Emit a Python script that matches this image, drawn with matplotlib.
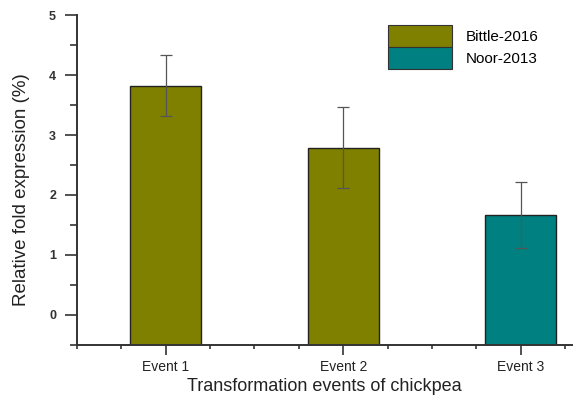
import matplotlib
matplotlib.use("Agg")
import matplotlib.pyplot as plt
from matplotlib.patches import Patch
from matplotlib.ticker import MultipleLocator

events = ["Event 1", "Event 2", "Event 3"]
fold = [3.82, 2.79, 1.67]
err = [0.51, 0.68, 0.55]
source = ["Bittle-2016", "Bittle-2016", "Noor-2013"]
colours = {"Bittle-2016": "#808000", "Noor-2013": "#008080"}

plt.rcParams["font.family"] = ["Liberation Sans", "DejaVu Sans"]

fig = plt.figure(figsize=(5.74, 3.96), dpi=100)
ax = fig.add_axes([0.134, 0.129, 0.863, 0.833])

ymin, ymax = -0.5, 5
pos = [1, 2, 3]
# bars rise from the bottom of the axis, as in Origin plots
ax.bar(pos, [f - ymin for f in fold], bottom=ymin, width=0.4,
       color=[colours[s] for s in source],
       edgecolor="#222222", linewidth=1.0, zorder=2)
ax.errorbar(pos, fold, yerr=err, fmt="none", ecolor="#555555",
            elinewidth=0.9, capsize=4, capthick=0.9, zorder=3)

ax.set_xlim(0.5, 3.29)
ax.set_ylim(ymin, ymax)
ax.set_xticks(pos)
ax.set_xticklabels(events, fontsize=10, color="#222222")
ax.xaxis.set_minor_locator(MultipleLocator(0.25))
ax.set_yticks([0, 1, 2, 3, 4, 5])
ax.yaxis.set_minor_locator(MultipleLocator(0.5))
ax.tick_params(axis="y", which="major", length=9, width=1.2, labelsize=9,
               colors="#333333", pad=6)
ax.tick_params(axis="y", which="minor", length=5, width=1.2, color="#333333")
ax.tick_params(axis="x", which="major", length=7, width=1.2, color="#333333", pad=4)
ax.tick_params(axis="x", which="minor", length=3, width=1.2, color="#333333")
for lbl in ax.get_yticklabels():
    lbl.set_fontweight("bold")

for side in ["top", "right"]:
    ax.spines[side].set_visible(False)
for side in ["left", "bottom"]:
    ax.spines[side].set_linewidth(1.4)
    ax.spines[side].set_color("#333333")

ax.set_xlabel("Transformation events of chickpea", fontsize=13, color="#222222",
              labelpad=3)
ax.set_ylabel("Relative fold expression (%)", fontsize=13.5, color="#222222",
              labelpad=9)
ax.yaxis.set_label_coords(-0.095, 0.47)

handles = [Patch(facecolor=colours[k], edgecolor="#333333", linewidth=0.8, label=k)
           for k in colours]
fig.legend(handles=handles, loc="upper left", bbox_to_anchor=(0.676, 0.936),
           frameon=False, fontsize=11, handlelength=4.2, handleheight=1.8,
           labelspacing=0.0, handletextpad=0.9, borderpad=0, borderaxespad=0)

fig.savefig("out.png", dpi=100)
